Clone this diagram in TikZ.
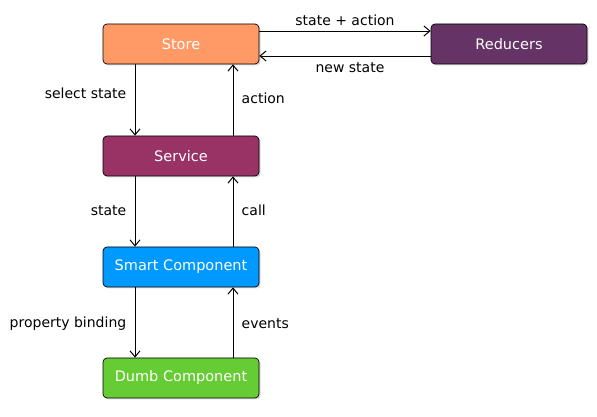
\documentclass[tikz,border=0pt]{standalone}
\usepackage{fontspec}
\setmainfont{DejaVu Sans}
\usetikzlibrary{shadows,arrows.meta}

\definecolor{storecol}{HTML}{FF9966}
\definecolor{reducercol}{HTML}{663366}
\definecolor{servicecol}{HTML}{993366}
\definecolor{smartcol}{HTML}{0099FF}
\definecolor{dumbcol}{HTML}{66CC33}

\tikzset{
    box/.style={draw=black,line width=0.7pt,rounded corners=4pt,minimum width=156pt,
        minimum height=40pt,text=white,font=\fontsize{14.5}{16}\selectfont,
        drop shadow={shadow xshift=1.5pt,shadow yshift=-1.5pt,opacity=0.3}},
    flow/.style={-{Straight Barb[length=6pt,width=10pt,line width=1pt]},line width=0.8pt},
    lbl/.style={font=\fontsize{14}{16}\selectfont,text=black}
}

\begin{document}
\begin{tikzpicture}[x=1pt,y=1pt]
        \useasboundingbox (0,0) rectangle (597,417);
        \node[box,fill=storecol] (store) at (181,373) {Store};
        \node[box,fill=reducercol] (reducers) at (509,373) {Reducers};
        \node[box,fill=servicecol] (service) at (181,261) {Service};
        \node[box,fill=smartcol] (smart) at (181,150) {Smart Component};
        \node[box,fill=dumbcol] (dumb) at (181,39) {Dumb Component};

        \draw[flow] ([yshift=13pt]store.east) -- node[lbl,above=2pt] {state + action} ([yshift=13pt]reducers.west);
        \draw[flow] ([yshift=-12pt]reducers.west) -- node[lbl,below=3pt,xshift=5pt] {new state} ([yshift=-12pt]store.east);

        \draw[flow] ([xshift=-46pt]store.south) -- node[lbl,left=5pt,yshift=7pt] {select state} ([xshift=-46pt]service.north);
        \draw[flow] ([xshift=52pt]service.north) -- node[lbl,right=5pt,yshift=2pt] {action} ([xshift=52pt]store.south);

        \draw[flow] ([xshift=-46pt]service.south) -- node[lbl,left=5pt,yshift=1pt] {state} ([xshift=-46pt]smart.north);
        \draw[flow] ([xshift=52pt]smart.north) -- node[lbl,right=5pt,yshift=1pt] {call} ([xshift=52pt]service.south);

        \draw[flow] ([xshift=-46pt]smart.south) -- node[lbl,left=5pt,yshift=-1pt] {property binding} ([xshift=-46pt]dumb.north);
        \draw[flow] ([xshift=52pt]dumb.north) -- node[lbl,right=5pt,yshift=-1pt] {events} ([xshift=52pt]smart.south);
\end{tikzpicture}
\end{document}
